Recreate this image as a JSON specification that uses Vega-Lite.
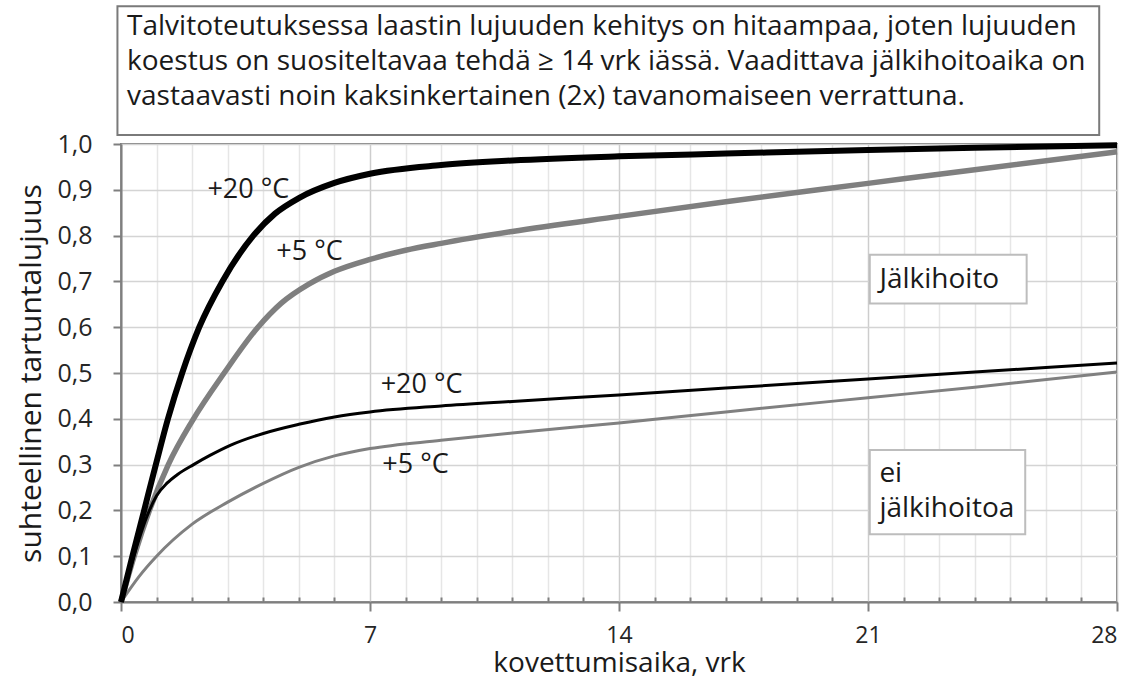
{
  "$schema": "https://vega.github.io/schema/vega-lite/v6.json",
  "width": 996,
  "height": 458,
  "autosize": {"type": "none"},
  "padding": {"left": 121, "top": 144, "right": 18, "bottom": 85},
  "background": "white",
  "config": {
    "font": "Open Sans",
    "view": {"stroke": "#7f7f7f", "strokeWidth": 2},
    "axis": {
      "labelFont": "Open Sans",
      "titleFont": "Open Sans",
      "labelColor": "#262626",
      "titleColor": "#1a1a1a",
      "titleFontWeight": "normal",
      "domainColor": "#7f7f7f",
      "domainWidth": 2,
      "tickColor": "#7f7f7f",
      "tickWidth": 2,
      "gridColor": "#d4d4d4",
      "gridWidth": 1.5
    }
  },
  "datasets": {
    "curves": [
      {"sarja": "jälkihoito +20 °C", "vrk": 0, "lujuus": 0},
      {"sarja": "jälkihoito +20 °C", "vrk": 0.32, "lujuus": 0.1},
      {"sarja": "jälkihoito +20 °C", "vrk": 0.65, "lujuus": 0.2},
      {"sarja": "jälkihoito +20 °C", "vrk": 0.98, "lujuus": 0.3},
      {"sarja": "jälkihoito +20 °C", "vrk": 1.32, "lujuus": 0.4},
      {"sarja": "jälkihoito +20 °C", "vrk": 1.72, "lujuus": 0.5},
      {"sarja": "jälkihoito +20 °C", "vrk": 2.2, "lujuus": 0.6},
      {"sarja": "jälkihoito +20 °C", "vrk": 2.85, "lujuus": 0.7},
      {"sarja": "jälkihoito +20 °C", "vrk": 3.72, "lujuus": 0.8},
      {"sarja": "jälkihoito +20 °C", "vrk": 4.33, "lujuus": 0.848},
      {"sarja": "jälkihoito +20 °C", "vrk": 5, "lujuus": 0.882},
      {"sarja": "jälkihoito +20 °C", "vrk": 6, "lujuus": 0.915},
      {"sarja": "jälkihoito +20 °C", "vrk": 7, "lujuus": 0.935},
      {"sarja": "jälkihoito +20 °C", "vrk": 9, "lujuus": 0.954},
      {"sarja": "jälkihoito +20 °C", "vrk": 11, "lujuus": 0.964},
      {"sarja": "jälkihoito +20 °C", "vrk": 14, "lujuus": 0.973},
      {"sarja": "jälkihoito +20 °C", "vrk": 17, "lujuus": 0.979},
      {"sarja": "jälkihoito +20 °C", "vrk": 21, "lujuus": 0.987},
      {"sarja": "jälkihoito +20 °C", "vrk": 24, "lujuus": 0.992},
      {"sarja": "jälkihoito +20 °C", "vrk": 28, "lujuus": 0.997},
      {"sarja": "jälkihoito +5 °C", "vrk": 0, "lujuus": 0},
      {"sarja": "jälkihoito +5 °C", "vrk": 0.37, "lujuus": 0.1},
      {"sarja": "jälkihoito +5 °C", "vrk": 0.8, "lujuus": 0.2},
      {"sarja": "jälkihoito +5 °C", "vrk": 1.33, "lujuus": 0.3},
      {"sarja": "jälkihoito +5 °C", "vrk": 2.0, "lujuus": 0.395},
      {"sarja": "jälkihoito +5 °C", "vrk": 2.9, "lujuus": 0.5},
      {"sarja": "jälkihoito +5 °C", "vrk": 3.85, "lujuus": 0.6},
      {"sarja": "jälkihoito +5 °C", "vrk": 4.5, "lujuus": 0.652},
      {"sarja": "jälkihoito +5 °C", "vrk": 5.28, "lujuus": 0.694},
      {"sarja": "jälkihoito +5 °C", "vrk": 6, "lujuus": 0.722},
      {"sarja": "jälkihoito +5 °C", "vrk": 7, "lujuus": 0.748},
      {"sarja": "jälkihoito +5 °C", "vrk": 8, "lujuus": 0.768},
      {"sarja": "jälkihoito +5 °C", "vrk": 9, "lujuus": 0.783},
      {"sarja": "jälkihoito +5 °C", "vrk": 11, "lujuus": 0.809},
      {"sarja": "jälkihoito +5 °C", "vrk": 14, "lujuus": 0.842},
      {"sarja": "jälkihoito +5 °C", "vrk": 17, "lujuus": 0.874},
      {"sarja": "jälkihoito +5 °C", "vrk": 21, "lujuus": 0.914},
      {"sarja": "jälkihoito +5 °C", "vrk": 24, "lujuus": 0.944},
      {"sarja": "jälkihoito +5 °C", "vrk": 28, "lujuus": 0.983},
      {"sarja": "ei jälkihoitoa +20 °C", "vrk": 0, "lujuus": 0},
      {"sarja": "ei jälkihoitoa +20 °C", "vrk": 0.36, "lujuus": 0.1},
      {"sarja": "ei jälkihoitoa +20 °C", "vrk": 0.72, "lujuus": 0.185},
      {"sarja": "ei jälkihoitoa +20 °C", "vrk": 1.0, "lujuus": 0.232},
      {"sarja": "ei jälkihoitoa +20 °C", "vrk": 1.3, "lujuus": 0.26},
      {"sarja": "ei jälkihoitoa +20 °C", "vrk": 1.6, "lujuus": 0.279},
      {"sarja": "ei jälkihoitoa +20 °C", "vrk": 2.04, "lujuus": 0.3},
      {"sarja": "ei jälkihoitoa +20 °C", "vrk": 2.5, "lujuus": 0.32},
      {"sarja": "ei jälkihoitoa +20 °C", "vrk": 3.07, "lujuus": 0.342},
      {"sarja": "ei jälkihoitoa +20 °C", "vrk": 4, "lujuus": 0.368},
      {"sarja": "ei jälkihoitoa +20 °C", "vrk": 5, "lujuus": 0.388},
      {"sarja": "ei jälkihoitoa +20 °C", "vrk": 6, "lujuus": 0.404},
      {"sarja": "ei jälkihoitoa +20 °C", "vrk": 7, "lujuus": 0.415},
      {"sarja": "ei jälkihoitoa +20 °C", "vrk": 9, "lujuus": 0.428},
      {"sarja": "ei jälkihoitoa +20 °C", "vrk": 11, "lujuus": 0.438},
      {"sarja": "ei jälkihoitoa +20 °C", "vrk": 14, "lujuus": 0.452},
      {"sarja": "ei jälkihoitoa +20 °C", "vrk": 17, "lujuus": 0.467},
      {"sarja": "ei jälkihoitoa +20 °C", "vrk": 21, "lujuus": 0.487},
      {"sarja": "ei jälkihoitoa +20 °C", "vrk": 24, "lujuus": 0.502},
      {"sarja": "ei jälkihoitoa +20 °C", "vrk": 28, "lujuus": 0.522},
      {"sarja": "ei jälkihoitoa +5 °C", "vrk": 0, "lujuus": 0},
      {"sarja": "ei jälkihoitoa +5 °C", "vrk": 0.5, "lujuus": 0.055},
      {"sarja": "ei jälkihoitoa +5 °C", "vrk": 1, "lujuus": 0.1},
      {"sarja": "ei jälkihoitoa +5 °C", "vrk": 2, "lujuus": 0.17},
      {"sarja": "ei jälkihoitoa +5 °C", "vrk": 3, "lujuus": 0.218},
      {"sarja": "ei jälkihoitoa +5 °C", "vrk": 4, "lujuus": 0.259},
      {"sarja": "ei jälkihoitoa +5 °C", "vrk": 5, "lujuus": 0.294},
      {"sarja": "ei jälkihoitoa +5 °C", "vrk": 6, "lujuus": 0.319},
      {"sarja": "ei jälkihoitoa +5 °C", "vrk": 7, "lujuus": 0.335},
      {"sarja": "ei jälkihoitoa +5 °C", "vrk": 9, "lujuus": 0.353},
      {"sarja": "ei jälkihoitoa +5 °C", "vrk": 11, "lujuus": 0.369},
      {"sarja": "ei jälkihoitoa +5 °C", "vrk": 14, "lujuus": 0.391},
      {"sarja": "ei jälkihoitoa +5 °C", "vrk": 17, "lujuus": 0.415},
      {"sarja": "ei jälkihoitoa +5 °C", "vrk": 21, "lujuus": 0.446},
      {"sarja": "ei jälkihoitoa +5 °C", "vrk": 24, "lujuus": 0.469},
      {"sarja": "ei jälkihoitoa +5 °C", "vrk": 28, "lujuus": 0.502}
    ],
    "curveLabels": [
      {"teksti": "+20 °C", "vrk": 3.58, "lujuus": 0.9},
      {"teksti": "+5 °C", "vrk": 5.3, "lujuus": 0.764},
      {"teksti": "+20 °C", "vrk": 8.45, "lujuus": 0.474},
      {"teksti": "+5 °C", "vrk": 8.28, "lujuus": 0.299}
    ],
    "boxes": [
      {"laatikko": "otsikko", "x1": -0.1, "x2": 27.5, "y1": 1.0197, "y2": 1.301},
      {"laatikko": "jälkihoito", "x1": 21.05, "x2": 25.46, "y1": 0.652, "y2": 0.758},
      {"laatikko": "ei jälkihoitoa", "x1": 21.05, "x2": 25.42, "y1": 0.148, "y2": 0.332}
    ],
    "boxTexts": [
      {"teksti": "Talvitoteutuksessa laastin lujuuden kehitys on hitaampaa, joten lujuuden", "vrk": 0.17, "lujuus": 1.2555},
      {"teksti": "koestus on suositeltavaa tehdä ≥ 14 vrk iässä. Vaadittava jälkihoitoaika on", "vrk": 0.17, "lujuus": 1.179},
      {"teksti": "vastaavasti noin kaksinkertainen (2x) tavanomaiseen verrattuna.", "vrk": 0.17, "lujuus": 1.1026},
      {"teksti": "Jälkihoito", "vrk": 21.32, "lujuus": 0.703},
      {"teksti": "ei", "vrk": 21.32, "lujuus": 0.279},
      {"teksti": "jälkihoitoa", "vrk": 21.32, "lujuus": 0.203}
    ]
  },
  "resolve": {"axis": {"x": "independent", "y": "independent"}},
  "layer": [
    {
      "data": {"name": "curves"},
      "transform": [{"filter": "datum.sarja === 'ei jälkihoitoa +5 °C'"}],
      "mark": {"type": "line", "interpolate": "monotone", "color": "#808080", "strokeWidth": 3},
      "encoding": {
        "x": {
          "field": "vrk", "type": "quantitative",
          "scale": {"domain": [0, 28], "nice": false},
          "axis": {
            "orient": "bottom",
            "values": [1,2,3,4,5,6,8,9,10,11,12,13,15,16,17,18,19,20,22,23,24,25,26,27],
            "grid": true, "gridColor": "#e6e6e6", "gridWidth": 1.5,
            "labels": false, "domain": false, "tickSize": -5, "title": null
          }
        },
        "y": {
          "field": "lujuus", "type": "quantitative",
          "scale": {"domain": [0, 1], "nice": false},
          "axis": {
            "orient": "left",
            "values": [0, 0.1, 0.2, 0.3, 0.4, 0.5, 0.6, 0.7, 0.8, 0.9, 1],
            "format": ".1f",
            "labelExpr": "replace(datum.label, '.', ',')",
            "labelFontSize": 25,
            "labelPadding": 21,
            "tickSize": 8,
            "grid": true,
            "title": "suhteellinen tartuntalujuus",
            "titleFontSize": 30,
            "titlePadding": 10
          }
        }
      }
    },
    {
      "data": {"name": "curves"},
      "transform": [{"filter": "datum.sarja === 'jälkihoito +5 °C'"}],
      "mark": {"type": "line", "interpolate": "monotone", "color": "#7f7f7f", "strokeWidth": 5.5},
      "encoding": {
        "x": {
          "field": "vrk", "type": "quantitative",
          "scale": {"domain": [0, 28], "nice": false},
          "axis": {
            "orient": "bottom",
            "values": [0, 7, 14, 21, 28],
            "grid": true, "gridColor": "#cdcdcd", "gridWidth": 1.5,
            "labelFontSize": 23, "tickSize": 9, "labelPadding": 13,
            "title": "kovettumisaika, vrk", "titleFontSize": 28, "titlePadding": 2
          }
        },
        "y": {"field": "lujuus", "type": "quantitative", "scale": {"domain": [0, 1], "nice": false}, "axis": null}
      }
    },
    {
      "data": {"name": "curves"},
      "transform": [{"filter": "datum.sarja === 'ei jälkihoitoa +20 °C'"}],
      "mark": {"type": "line", "interpolate": "monotone", "color": "#000000", "strokeWidth": 3},
      "encoding": {
        "x": {"field": "vrk", "type": "quantitative", "scale": {"domain": [0, 28], "nice": false}, "axis": null},
        "y": {"field": "lujuus", "type": "quantitative", "scale": {"domain": [0, 1], "nice": false}, "axis": null}
      }
    },
    {
      "data": {"name": "curves"},
      "transform": [{"filter": "datum.sarja === 'jälkihoito +20 °C'"}],
      "mark": {"type": "line", "interpolate": "monotone", "color": "#000000", "strokeWidth": 6},
      "encoding": {
        "x": {"field": "vrk", "type": "quantitative", "scale": {"domain": [0, 28], "nice": false}, "axis": null},
        "y": {"field": "lujuus", "type": "quantitative", "scale": {"domain": [0, 1], "nice": false}, "axis": null}
      }
    },
    {
      "data": {"name": "curveLabels"},
      "mark": {"type": "text", "fontSize": 27, "color": "#1a1a1a", "align": "center", "baseline": "middle"},
      "encoding": {
        "x": {"field": "vrk", "type": "quantitative", "scale": {"domain": [0, 28], "nice": false}, "axis": null},
        "y": {"field": "lujuus", "type": "quantitative", "scale": {"domain": [0, 1], "nice": false}, "axis": null},
        "text": {"field": "teksti"}
      }
    },
    {
      "data": {"name": "boxes"},
      "mark": {"type": "rect", "fill": "white", "strokeWidth": 2},
      "encoding": {
        "x": {"field": "x1", "type": "quantitative", "scale": {"domain": [0, 28], "nice": false}, "axis": null},
        "x2": {"field": "x2"},
        "y": {"field": "y1", "type": "quantitative", "scale": {"domain": [0, 1], "nice": false}, "axis": null},
        "y2": {"field": "y2"},
        "stroke": {
          "field": "laatikko", "type": "nominal",
          "scale": {"domain": ["otsikko", "jälkihoito", "ei jälkihoitoa"], "range": ["#7a7a7a", "#bdbdbd", "#bdbdbd"]},
          "legend": null
        }
      }
    },
    {
      "data": {"name": "boxTexts"},
      "mark": {"type": "text", "fontSize": 28, "color": "#1a1a1a", "align": "left", "baseline": "middle"},
      "encoding": {
        "x": {"field": "vrk", "type": "quantitative", "scale": {"domain": [0, 28], "nice": false}, "axis": null},
        "y": {"field": "lujuus", "type": "quantitative", "scale": {"domain": [0, 1], "nice": false}, "axis": null},
        "text": {"field": "teksti"}
      }
    }
  ]
}
